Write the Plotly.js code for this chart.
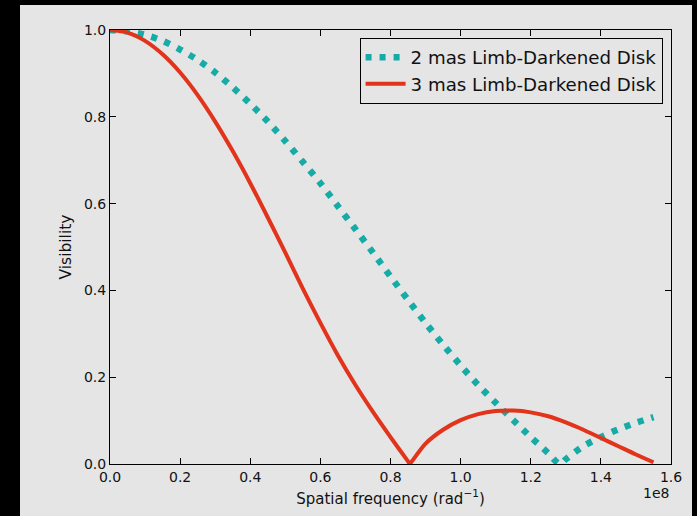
<!DOCTYPE html>
<html>
<head>
<meta charset="utf-8">
<script src="https://cdn.plot.ly/plotly-3.0.1.min.js"></script>
<style>
  html, body { margin: 0; padding: 0; background: #000; width: 697px; height: 516px; overflow: hidden; }
  #chart { position: absolute; left: 20px; top: 5px; width: 672px; height: 511px; }
</style>
</head>
<body>
<div id="chart"></div>
<script>
// Spatial frequency in units of 1e8 rad^-1
const freq3 = [0.00, 0.05, 0.10, 0.15, 0.20, 0.25, 0.30, 0.35, 0.40, 0.45, 0.50, 0.55, 0.60, 0.65, 0.70, 0.75, 0.80, 0.85, 0.855, 0.86, 0.90, 0.95, 1.00, 1.05, 1.10, 1.15, 1.20, 1.25, 1.30, 1.35, 1.40, 1.45, 1.50, 1.55];
const vis3  = [1.000, 0.994, 0.975, 0.944, 0.902, 0.850, 0.789, 0.721, 0.647, 0.568, 0.487, 0.404, 0.325, 0.250, 0.182, 0.120, 0.062, 0.006, 0.000, 0.005, 0.047, 0.079, 0.101, 0.115, 0.122, 0.123, 0.119, 0.110, 0.096, 0.079, 0.060, 0.041, 0.022, 0.004];

const freq2 = [0.00, 0.05, 0.10, 0.15, 0.20, 0.25, 0.30, 0.35, 0.40, 0.45, 0.50, 0.55, 0.60, 0.65, 0.70, 0.75, 0.80, 0.85, 0.90, 0.95, 1.00, 1.05, 1.10, 1.15, 1.20, 1.25, 1.2825, 1.30, 1.35, 1.40, 1.45, 1.50, 1.55];
const vis2  = [1.000, 0.997, 0.989, 0.975, 0.955, 0.931, 0.902, 0.868, 0.830, 0.789, 0.744, 0.696, 0.647, 0.594, 0.541, 0.487, 0.432, 0.378, 0.325, 0.275, 0.227, 0.182, 0.141, 0.101, 0.062, 0.025, 0.000, 0.011, 0.041, 0.062, 0.080, 0.095, 0.108];

const xTicks = [0.0, 0.2, 0.4, 0.6, 0.8, 1.0, 1.2, 1.4, 1.6];
const yTicks = [0.0, 0.2, 0.4, 0.6, 0.8, 1.0];
const names = ['2 mas Limb-Darkened Disk', '3 mas Limb-Darkened Disk'];

const FONT = 'DejaVu Sans, Liberation Sans, sans-serif';

const traces = [
  { x: freq2, y: vis2, mode: 'lines', name: names[0],
    line: { color: '#16aba6', width: 6.5, dash: '6px,8px', shape: 'spline', smoothing: 0.8 } },
  { x: freq3, y: vis3, mode: 'lines', name: names[1],
    line: { color: '#e2331b', width: 4, shape: 'spline', smoothing: 0.8 } }
];

const axisCommon = {
  showgrid: false, zeroline: false,
  showline: true, linecolor: '#000', linewidth: 1, mirror: 'ticks',
  ticks: 'inside', ticklen: 6, tickwidth: 1, tickcolor: '#000',
  tickfont: { family: FONT, size: 14, color: '#111' }
};

const layout = {
  width: 672, height: 511,
  margin: { l: 90, r: 21, t: 25, b: 52 },
  paper_bgcolor: '#e5e5e5',
  plot_bgcolor: '#e5e5e5',
  showlegend: true,
  legend: {
    x: 0.985, y: 0.982, xanchor: 'right', yanchor: 'top',
    bgcolor: '#e5e5e5', bordercolor: '#000', borderwidth: 1,
    font: { family: FONT, size: 18.2, color: '#111' },
    itemwidth: 40,
    tracegroupgap: 0
  },
  xaxis: Object.assign({}, axisCommon, {
    range: [0, 1.6], tickvals: xTicks, tickformat: '.1f',
    title: { text: 'Spatial frequency (rad<sup>\u22121</sup>)', font: { family: FONT, size: 15, color: '#111' }, standoff: 9 }
  }),
  yaxis: Object.assign({}, axisCommon, {
    range: [0, 1.0], tickvals: yTicks, tickformat: '.1f',
    title: { text: 'Visibility', font: { family: FONT, size: 15.5, color: '#111' }, standoff: 8 }
  }),
  annotations: [{
    text: '1e8', xref: 'paper', yref: 'paper', x: 1.0, y: -0.066,
    xanchor: 'right', yanchor: 'middle', showarrow: false,
    font: { family: FONT, size: 14, color: '#111' }
  }]
};

Plotly.newPlot('chart', traces, layout, { displayModeBar: false, staticPlot: true });
</script>
</body>
</html>
